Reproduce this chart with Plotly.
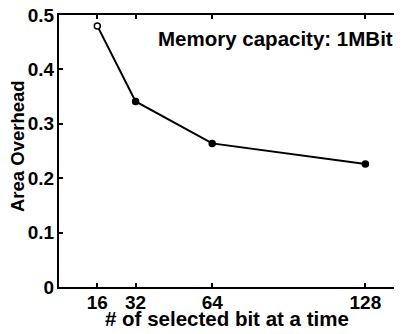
import plotly.graph_objects as go

bits = [16, 32, 64, 128]
overhead = [0.48, 0.341, 0.264, 0.226]
x_ticks = [16, 32, 64, 128]
y_ticks = [0, 0.1, 0.2, 0.3, 0.4, 0.5]
y_tick_labels = ["0", "0.1", "0.2", "0.3", "0.4", "0.5"]

FONT = "Liberation Sans, Arial, sans-serif"

# page body has an 8px margin; figure coordinates are screen coordinates minus 8
OFF = 8
W, H = 394, 326
L, R, T, B = 59 - OFF, 0, 15 - OFF, 47
pw, ph = W - L - R, H - T - B


def px(sx, sy):
    """screen pixel -> paper coords"""
    fx, fy = sx - OFF, sy - OFF
    return (fx - L) / pw, (H - B - fy) / ph


fig = go.Figure()
fig.add_trace(go.Scatter(
    x=bits, y=overhead, mode="lines+markers",
    line=dict(color="black", width=2),
    marker=dict(color=["white", "black", "black", "black"], size=6,
                line=dict(color="black", width=1.5)),
    showlegend=False, cliponaxis=False,
))

ax, ay = px(395, 38)
fig.add_annotation(x=ax, y=ay, xref="paper", yref="paper", showarrow=False,
                   xanchor="right", yanchor="middle",
                   text="<b>Memory capacity: 1MBit</b>",
                   font=dict(family=FONT, size=20.5, color="black"))

tx, ty = px(227, 318)
fig.add_annotation(x=tx, y=ty, xref="paper", yref="paper", showarrow=False,
                   xanchor="center", yanchor="middle",
                   text="<b># of selected bit at a time</b>",
                   font=dict(family=FONT, size=20.5, color="black"))

yx, yy = px(17, 146)
fig.add_annotation(x=yx, y=yy, xref="paper", yref="paper", showarrow=False,
                   xanchor="center", yanchor="middle", textangle=-90,
                   text="<b>Area Overhead</b>",
                   font=dict(family=FONT, size=18.5, color="black"))

fig.update_layout(
    width=W, height=H,
    margin=dict(l=L, r=R, t=T, b=B, autoexpand=False),
    paper_bgcolor="white", plot_bgcolor="white",
    font=dict(family=FONT, color="black"),
    xaxis=dict(
        range=[0, 143.3], tickvals=x_ticks, ticktext=[f"<b>{v}</b>" for v in x_ticks],
        ticks="inside", ticklen=4, tickwidth=1.5, tickcolor="black",
        showline=True, linecolor="black", linewidth=2, mirror="allticks",
        showgrid=False, zeroline=False, automargin=False,
        ticklabelstandoff=-3, ticklabeloverflow="allow",
        tickfont=dict(family=FONT, size=19, color="black"),
    ),
    yaxis=dict(
        range=[0, 0.5], tickvals=y_ticks, ticktext=[f"<b>{t}</b>" for t in y_tick_labels],
        ticks="inside", ticklen=4, tickwidth=1.5, tickcolor="black",
        showline=True, linecolor="black", linewidth=2, mirror="ticks",
        showgrid=False, zeroline=False, automargin=False,
        ticklabelstandoff=-1, ticklabeloverflow="allow",
        tickfont=dict(family=FONT, size=19, color="black"),
    ),
)

fig.write_html("out.html")
